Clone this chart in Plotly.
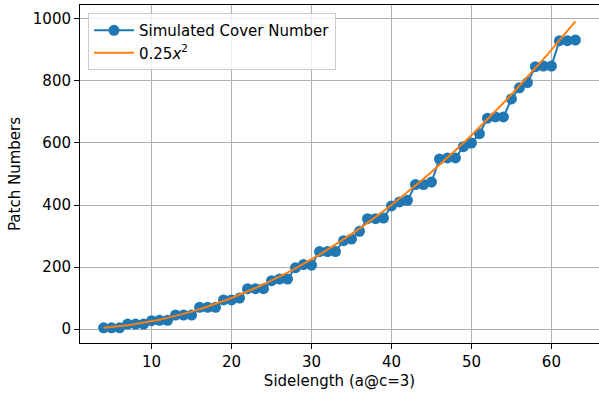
import plotly.graph_objects as go

side = list(range(4, 64))
cover = [4, 4, 4, 16, 16, 16, 27, 28, 28, 45, 45, 45,
         70, 70, 70, 94, 94, 100, 130, 130, 130, 156, 161, 161,
         198, 208, 206, 250, 250, 250, 285, 290, 315, 356, 356, 358,
         397, 410, 415, 466, 466, 474, 548, 552, 552, 588, 600, 630,
         680, 684, 684, 742, 778, 795, 846, 848, 848, 930, 930, 932]
coef = 0.25
fit = [coef * s ** 2 for s in side]

xticks = [10, 20, 30, 40, 50, 60]
yticks = [0, 200, 400, 600, 800, 1000]

FS = 15
fig = go.Figure()
fig.add_trace(go.Scatter(x=side, y=cover, mode="lines+markers", name="Simulated Cover Number",
                         line=dict(color="#1f77b4", width=2),
                         marker=dict(color="#1f77b4", size=11)))
fig.add_trace(go.Scatter(x=side, y=fit, mode="lines", name="0.25<i>x</i><sup>2</sup>",
                         line=dict(color="#ff7f0e", width=2)))

axis_common = dict(showline=True, linecolor="black", linewidth=1, mirror=True,
                   ticks="outside", ticklen=5, tickcolor="black", tickwidth=1,
                   showgrid=True, gridcolor="#b0b0b0", gridwidth=1, zeroline=False,
                   tickfont=dict(family="DejaVu Sans", size=FS, color="black"))
fig.update_xaxes(range=[1.05, 65.95], tickvals=xticks,
                 title=dict(text="Sidelength (a@c=3)", standoff=5,
                            font=dict(family="DejaVu Sans", size=FS, color="black")),
                 **axis_common)
fig.update_yaxes(range=[-45, 1045], tickvals=yticks,
                 title=dict(text="Patch Numbers", standoff=8,
                            font=dict(family="DejaVu Sans", size=FS, color="black")),
                 **axis_common)
fig.update_layout(width=599, height=397, margin=dict(l=80, r=0, t=5, b=54),
                  plot_bgcolor="white", paper_bgcolor="white",
                  font=dict(family="DejaVu Sans", size=FS, color="black"),
                  legend=dict(x=0.0154, y=0.976, xanchor="left", yanchor="top",
                              bgcolor="rgba(255,255,255,0.8)", bordercolor="#cccccc",
                              borderwidth=1, font=dict(size=FS), tracegroupgap=0,
                              itemwidth=40),
                  showlegend=True)
fig.write_html("out.html")
